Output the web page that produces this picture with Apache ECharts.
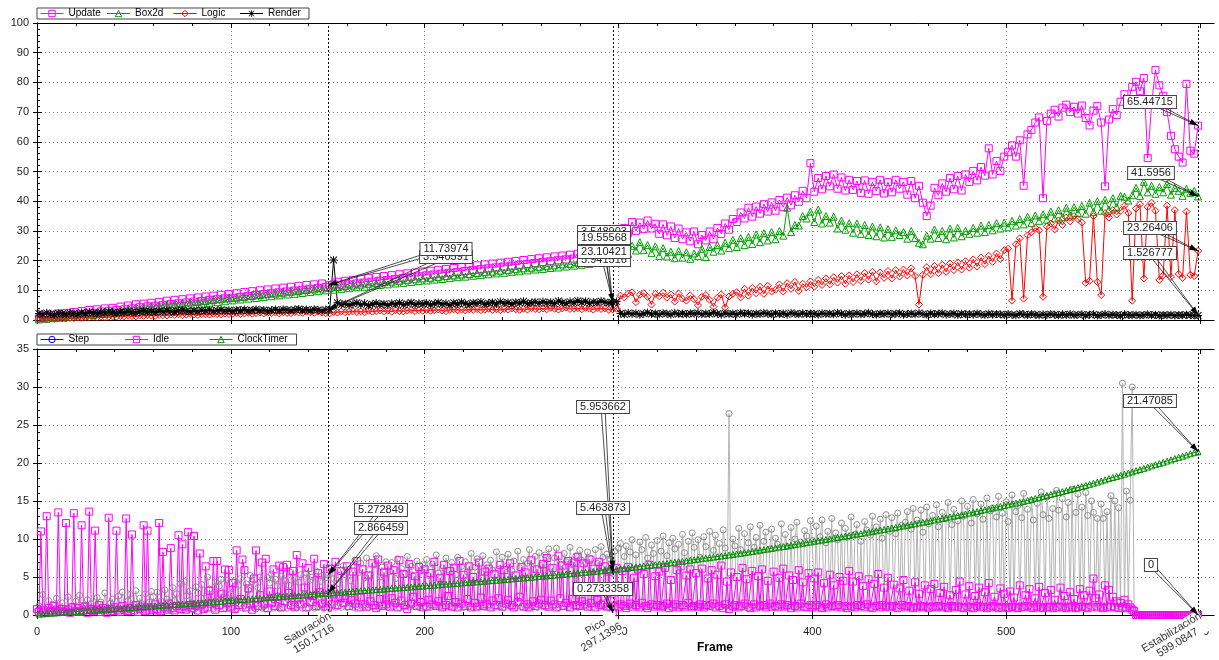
<!DOCTYPE html>
<html>
<head>
<meta charset="utf-8">
<title>Frame timings</title>
<script src="https://cdn.jsdelivr.net/npm/echarts@6/dist/echarts.min.js"></script>
<style>
html, body { margin: 0; padding: 0; background: #fff; }
#chart { width: 1219px; height: 660px; }
</style>
</head>
<body>
<div id="chart"></div>
<script>
const FONT = '"Liberation Sans", Arial, Helvetica, sans-serif';

// ---- axis ticks -------------------------------------------------------
const frameMax = 607.2;
const frameTicks = [0, 100, 200, 300, 400, 500, 600];
const frameMinorTicks = [20, 40, 60, 80, 120, 140, 160, 180, 220, 240, 260, 280,
  320, 340, 360, 380, 420, 440, 460, 480, 520, 540, 560, 580];

// ---- frames at which the timers were sampled --------------------------
const oddFrames = [];
for (let f = 1; f < 600; f += 2) oddFrames.push(f);
const everyFrame = [];
for (let f = 0; f < 600; f++) everyFrame.push(f);

// ---- cursors placed on the run ---------------------------------------
const cursors = [
  { name: 'Saturación', frame: 150.1716 },
  { name: 'Pico', frame: 297.1396 },
  { name: 'Estabilización', frame: 599.0847 }
];

// ---- upper panel (ms), one value per odd frame ------------------------
const updateMs = [
  0.6,1.5,0.9,1.8,1.1,2.2,1.3,2.4,1.6,2.7,
  1.8,3.0,2.1,3.4,2.4,3.6,2.9,3.9,3.1,4.1,
  3.4,4.5,3.6,4.9,3.9,5.3,4.3,5.5,4.6,5.8,
  4.8,6.1,5.0,6.5,5.4,6.8,5.6,7.0,5.9,7.3,
  6.2,7.6,6.4,7.9,6.8,8.2,7.0,8.5,7.3,8.8,
  7.5,9.0,7.8,9.4,8.1,9.7,8.4,10.0,8.7,10.3,
  9.0,10.6,9.3,10.9,9.6,11.2,9.9,11.5,10.2,11.8,
  10.5,12.0,10.8,12.3,11.1,11.73974,12.0,12.9,11.6,13.2,
  12.0,13.5,12.3,13.9,12.6,14.2,12.9,14.5,13.2,14.8,
  13.5,15.1,13.8,15.4,14.1,15.7,14.4,16.0,14.7,16.3,
  15.0,16.6,15.3,16.9,15.6,17.2,15.9,17.5,16.2,17.8,
  16.5,18.1,16.8,18.4,17.1,18.7,17.4,19.0,17.7,19.3,
  18.0,19.6,18.3,19.9,18.6,20.2,18.9,20.5,19.2,20.8,
  19.5,21.1,19.8,21.4,20.1,21.7,20.4,22.0,20.7,22.3,
  21.0,22.6,21.3,22.9,21.6,23.4,22.0,24.0,23.10421,24.2,
  27.5,31.0,29.2,33.0,30.0,32.8,30.6,33.5,30.8,32.4,
  29.0,32.2,28.5,31.5,27.6,30.8,27.2,29.5,26.5,29.8,
  25.5,28.6,26.8,29.8,27.2,31.0,29.0,32.5,30.4,34.0,
  33.0,36.2,34.2,37.8,34.8,38.2,35.8,39.0,36.5,39.6,
  36.8,40.4,38.0,41.2,38.6,42.0,39.8,43.5,41.0,52.8,
  43.2,47.8,44.0,48.5,45.0,49.0,44.2,48.0,43.6,47.2,
  43.8,46.8,42.8,47.0,42.5,46.5,43.4,47.2,42.6,46.4,
  43.0,47.2,44.2,46.5,42.2,46.8,41.0,45.2,39.5,35.0,
  38.5,44.5,42.0,46.0,43.2,47.8,44.0,48.5,43.6,49.0,
  46.5,50.2,47.0,51.5,48.6,57.8,49.0,53.5,50.2,55.0,
  56.5,58.8,55.0,60.5,45.2,62.5,64.0,66.5,68.2,41.0,
  67.0,69.5,70.8,68.5,71.5,72.5,70.0,71.8,69.5,72.2,
  68.0,65.5,70.5,72.0,66.5,45.0,67.5,71.0,69.0,73.5,
  76.0,74.0,78.5,80.2,77.0,81.5,54.5,72.5,84.2,79.0,
  75.5,70.0,62.0,57.5,55.0,53.0,79.5,57.0,56.0,65.44715
];
const box2dMs = [
  0.2,0.7,0.4,1.0,0.6,1.2,0.8,1.5,1.0,1.7,
  1.2,2.0,1.5,2.3,1.7,2.5,2.0,2.8,2.2,3.0,
  2.5,3.3,2.8,3.6,3.0,3.9,3.3,4.1,3.6,4.4,
  3.8,4.7,4.1,5.0,4.4,5.3,4.6,5.6,4.9,5.9,
  5.2,6.1,5.5,6.4,5.8,6.7,6.0,7.0,6.3,7.3,
  6.6,7.5,6.9,7.8,7.2,8.1,7.4,8.4,7.7,8.7,
  8.0,8.9,8.3,9.2,8.6,9.5,8.8,9.8,9.1,10.1,
  9.4,10.3,9.7,10.6,10.0,10.8,10.2,11.1,10.5,11.4,
  10.7,11.6,11.0,11.9,11.2,12.2,11.5,12.4,11.8,12.7,
  12.0,12.9,12.3,13.2,12.5,13.5,12.8,13.7,13.1,14.0,
  13.3,14.2,13.6,14.5,13.8,14.8,14.1,15.0,14.4,15.3,
  14.6,15.5,14.9,15.8,15.1,16.1,15.4,16.3,15.7,16.6,
  15.9,16.8,16.2,17.1,16.4,17.4,16.7,17.6,17.0,17.9,
  17.2,18.1,17.5,18.4,17.7,18.7,18.0,18.9,18.3,19.3,
  18.6,19.5,18.9,19.9,19.2,20.4,19.6,21.0,19.55568,21.3,
  21.0,23.6,22.2,25.0,23.4,26.2,23.5,25.2,22.6,24.8,
  21.6,24.2,21.4,23.0,20.8,23.2,21.0,22.8,20.6,22.4,
  21.5,24.0,21.2,24.6,23.0,25.2,23.4,26.0,24.2,27.0,
  24.6,27.6,25.2,28.0,25.6,28.8,26.2,29.2,26.8,29.6,
  27.2,30.0,28.4,37.8,29.6,32.0,31.8,35.0,34.2,36.5,
  33.0,37.2,32.5,35.0,32.8,34.8,30.8,33.5,30.4,32.6,
  29.4,32.5,29.0,32.0,28.6,31.5,28.2,31.2,27.8,30.6,
  28.0,30.2,28.6,29.6,27.4,30.0,27.6,26.0,25.5,28.4,
  27.4,30.5,27.6,30.0,27.2,30.8,27.8,31.0,28.2,30.0,
  29.0,31.0,29.4,31.8,29.6,32.0,30.2,32.6,30.8,32.8,
  31.2,33.4,31.8,34.0,32.2,34.8,32.6,35.2,33.4,35.6,
  33.8,36.5,34.2,37.0,34.6,37.8,35.2,38.0,36.0,38.4,
  35.8,39.5,36.4,40.0,36.8,40.5,37.2,41.0,38.0,41.8,
  41.5,40.2,42.0,44.5,41.8,46.5,43.0,45.2,42.5,44.8,
  43.0,45.8,42.2,44.5,43.5,41.8,44.2,42.8,43.5,41.5956
];
const logicMs = [
  0.3,0.4,0.3,0.5,0.4,0.5,0.6,0.5,0.7,0.6,
  0.8,0.7,0.9,0.8,1.0,0.9,1.1,1.0,1.1,1.2,
  1.1,1.3,1.2,1.4,1.3,1.2,1.5,1.4,1.6,1.5,
  1.4,1.7,1.6,1.5,1.8,1.7,1.9,1.6,1.8,2.0,
  1.8,1.7,2.0,1.9,1.8,2.1,2.0,1.9,2.2,2.0,
  2.1,2.3,2.0,2.2,2.4,2.1,2.3,2.5,2.2,2.4,
  2.3,2.5,2.2,2.6,2.4,2.3,2.7,2.5,2.4,2.8,
  2.6,2.4,2.8,2.5,2.3,2.2,2.7,2.5,2.9,2.6,
  2.8,3.0,2.7,2.9,2.6,3.1,2.8,3.0,3.2,2.9,
  3.1,2.8,3.3,3.0,2.9,3.2,3.4,3.0,3.3,3.1,
  3.4,3.1,3.3,3.5,3.2,3.0,3.4,3.6,3.3,3.5,
  3.2,3.6,3.4,3.7,3.3,3.5,3.8,3.4,3.6,3.3,
  3.7,3.5,3.9,3.6,3.4,3.8,3.5,4.0,3.7,3.6,
  3.9,3.6,4.1,3.8,3.5,3.9,4.2,3.7,3.8,4.0,
  3.6,4.1,3.8,3.5,4.0,3.7,3.9,3.4,3.548903,3.8,
  8.2,7.6,8.9,9.3,6.0,8.5,9.0,7.8,5.2,8.8,
  8.0,9.2,7.5,8.6,6.2,8.9,7.2,6.5,8.3,7.0,
  5.0,7.8,8.4,6.8,4.5,7.5,8.6,4.2,7.9,8.8,
  9.4,7.6,10.5,8.2,10.8,9.0,11.2,8.8,11.5,9.6,
  10.2,12.0,9.6,12.4,10.5,12.8,9.8,12.2,11.0,13.0,
  11.2,13.5,11.8,14.0,12.0,14.4,12.6,14.8,12.2,15.0,
  12.8,15.4,13.2,15.8,13.6,16.2,13.0,16.0,14.2,16.5,
  14.0,16.8,14.6,17.0,15.0,17.4,14.8,5.2,15.2,17.8,
  15.4,18.2,15.8,18.6,16.2,19.0,16.8,19.4,17.0,19.8,
  17.6,20.4,18.0,21.0,18.8,21.6,19.6,22.4,20.5,23.5,
  24.0,6.5,25.5,27.5,7.2,28.5,29.5,31.0,30.2,7.8,
  31.5,32.5,30.5,33.5,32.0,34.5,33.2,35.0,34.0,32.8,
  12.5,13.2,35.0,12.8,8.4,36.0,34.5,37.0,35.5,36.8,
  38.5,36.0,6.5,37.5,39.0,14.0,38.0,39.5,36.8,13.5,
  15.0,38.5,14.5,37.0,15.5,14.2,36.5,15.2,14.8,23.26406
];
const renderMs = [
  2.2,1.9,2.4,2.0,1.8,2.3,2.1,1.9,2.4,2.2,
  2.0,2.5,2.2,2.7,2.3,2.1,2.6,2.4,2.8,2.5,
  2.3,2.7,2.5,2.9,2.6,2.4,2.8,3.0,2.7,2.9,
  2.6,3.0,2.8,3.2,2.9,2.7,3.1,3.3,3.0,2.8,
  3.2,2.9,3.3,3.1,3.4,3.0,3.2,3.5,3.1,3.3,
  3.0,3.4,3.2,3.5,3.1,3.3,3.6,3.2,3.4,3.0,
  3.3,3.5,3.1,3.6,3.4,3.2,3.5,3.7,3.3,3.5,
  3.2,3.6,3.4,3.1,3.5,3.540591,20.2,5.8,5.2,5.5,
  5.0,5.4,5.8,5.1,5.6,4.9,5.3,5.7,5.2,5.5,
  5.0,5.6,5.3,5.8,5.1,5.5,5.9,5.2,5.6,5.4,
  5.7,5.1,5.5,5.9,5.3,5.6,5.0,5.8,5.4,6.0,
  5.5,5.2,5.8,5.6,6.1,5.3,5.7,5.9,5.4,6.2,
  5.6,5.9,5.3,6.0,5.7,6.3,5.5,5.8,6.1,5.6,
  6.2,5.7,6.0,5.5,6.4,5.9,5.6,6.2,5.8,6.5,
  5.9,6.3,5.6,6.1,5.8,6.4,6.0,5.7,5.941516,6.2,
  2.2,1.9,2.4,2.0,2.3,1.8,2.1,2.5,2.0,2.2,
  1.9,2.3,2.1,1.8,2.4,2.0,2.2,1.9,2.3,2.1,
  2.4,1.9,2.2,2.0,2.5,2.1,1.8,2.3,2.0,2.2,
  1.9,2.4,2.1,2.3,1.8,2.2,2.0,2.4,2.1,1.9,
  2.3,2.0,2.2,1.8,2.4,2.1,1.9,2.3,2.0,2.2,
  2.1,1.8,2.3,2.0,2.2,1.9,2.4,2.1,1.8,2.2,
  2.0,2.3,1.9,2.1,2.4,2.0,1.8,2.2,2.0,2.3,
  1.9,2.1,2.3,1.8,2.0,2.2,1.9,2.4,2.0,1.8,
  2.2,1.9,2.1,2.3,1.8,2.0,2.2,1.7,2.1,1.9,
  2.0,1.8,2.2,1.9,1.7,2.1,1.8,2.0,1.9,1.7,
  2.0,1.8,1.6,2.1,1.9,1.7,2.0,1.8,1.6,1.9,
  1.7,2.0,1.8,1.6,1.9,1.7,2.0,1.6,1.8,1.9,
  1.6,1.8,1.9,1.5,1.7,2.0,1.6,1.8,1.7,1.5,
  1.9,1.7,1.6,1.8,1.5,1.7,1.9,1.6,1.8,1.5,
  1.7,1.6,1.8,1.5,1.7,1.6,1.8,1.6,1.5,1.526777
];

// ---- lower panel (ms) -------------------------------------------------
const clockTimerMs = [
  0.12,0.15,0.19,0.23,0.26,0.30,0.33,0.37,0.41,0.44,
  0.48,0.52,0.55,0.59,0.62,0.66,0.70,0.73,0.77,0.80,
  0.84,0.88,0.91,0.95,0.98,1.02,1.06,1.09,1.13,1.16,
  1.20,1.23,1.27,1.30,1.34,1.37,1.41,1.44,1.48,1.51,
  1.55,1.58,1.62,1.66,1.69,1.73,1.77,1.81,1.85,1.89,
  1.93,1.97,2.01,2.05,2.08,2.12,2.16,2.20,2.24,2.28,
  2.32,2.36,2.40,2.44,2.48,2.52,2.56,2.59,2.63,2.67,
  2.71,2.75,2.79,2.81,2.84,2.866459,2.91,2.95,2.99,3.03,
  3.07,3.11,3.15,3.19,3.22,3.26,3.30,3.34,3.38,3.42,
  3.46,3.50,3.54,3.58,3.61,3.65,3.69,3.73,3.77,3.81,
  3.85,3.89,3.93,3.97,4.01,4.05,4.09,4.13,4.17,4.21,
  4.25,4.29,4.33,4.37,4.41,4.45,4.49,4.53,4.57,4.61,
  4.66,4.70,4.75,4.79,4.84,4.88,4.93,4.97,5.02,5.06,
  5.11,5.15,5.20,5.24,5.29,5.34,5.38,5.43,5.48,5.53,
  5.57,5.62,5.67,5.72,5.76,5.81,5.86,5.90,5.953662,6.01,
  6.07,6.13,6.19,6.25,6.31,6.37,6.43,6.49,6.55,6.62,
  6.68,6.74,6.80,6.87,6.94,7.00,7.07,7.14,7.21,7.28,
  7.35,7.41,7.48,7.55,7.62,7.69,7.76,7.83,7.90,7.97,
  8.04,8.12,8.20,8.28,8.36,8.44,8.52,8.60,8.68,8.77,
  8.85,8.93,9.01,9.10,9.18,9.26,9.35,9.43,9.52,9.60,
  9.69,9.77,9.86,9.94,10.03,10.12,10.20,10.29,10.37,10.46,
  10.55,10.63,10.72,10.81,10.90,10.99,11.08,11.17,11.26,11.35,
  11.44,11.53,11.62,11.71,11.80,11.90,12.00,12.10,12.20,12.30,
  12.40,12.50,12.60,12.70,12.80,12.90,13.00,13.10,13.20,13.30,
  13.41,13.52,13.63,13.74,13.85,13.96,14.07,14.18,14.29,14.40,
  14.51,14.62,14.73,14.84,14.95,15.08,15.21,15.34,15.47,15.60,
  15.73,15.86,15.99,16.12,16.25,16.38,16.51,16.64,16.77,16.90,
  17.04,17.19,17.34,17.49,17.64,17.79,17.94,18.09,18.24,18.39,
  18.54,18.69,18.84,18.99,19.14,19.30,19.46,19.62,19.78,19.94,
  20.10,20.26,20.42,20.58,20.74,20.90,21.06,21.22,21.36,21.47085
];
// one value per frame, 0..599
const stepMs = [
  0.5,1.2,0.3,2.7,0.8,0.4,1.9,0.6,1.4,0.3,2.2,0.5,0.9,1.6,0.4,0.7,2.4,0.5,1.1,0.3,
  1.8,0.6,2.6,0.4,1.3,0.9,2.0,0.5,1.5,0.7,0.4,2.3,0.8,1.7,0.5,2.9,1.0,0.4,1.6,2.1,
  0.6,0.5,2.5,1.2,3.0,0.7,0.4,1.9,2.7,0.5,1.4,3.2,0.8,2.2,1.5,0.6,2.8,0.5,1.7,3.1,
  2.4,0.7,3.0,0.5,1.8,0.6,3.3,2.1,0.8,0.6,3.6,1.9,2.8,0.7,4.1,0.6,4.4,2.5,0.8,3.2,
  1.6,0.7,3.7,2.9,0.9,4.0,2.2,0.8,5.0,3.4,1.9,0.8,4.3,0.9,3.8,4.7,2.3,0.9,4.6,0.8,
  2.8,0.9,4.5,0.8,3.9,4.8,0.9,1.2,4.1,3.3,5.2,4.4,0.9,0.8,3.6,5.0,0.9,1.1,0.8,4.9,
  4.2,5.4,0.9,4.7,3.8,0.9,5.1,1.0,4.5,0.9,3.9,5.6,0.9,4.8,0.9,4.3,5.3,0.9,2.9,5.5,
  0.9,4.6,5.0,0.9,5.8,1.0,4.4,5.2,0.9,4.9,5.272849,1.0,6.2,4.8,1.0,5.9,4.1,1.0,6.5,5.3,
  1.0,6.0,4.5,1.0,7.2,1.1,5.6,6.8,1.0,4.9,7.5,1.0,5.3,1.1,6.6,7.8,1.0,5.0,6.3,1.1,
  7.0,1.0,5.7,6.9,1.1,4.8,7.4,1.0,6.1,1.1,5.4,7.7,1.0,6.4,5.1,1.1,7.1,1.0,5.8,6.6,
  1.1,7.3,5.2,1.0,6.7,1.1,7.9,5.5,1.1,6.2,1.0,7.5,5.9,1.1,6.9,1.0,5.3,7.6,1.1,6.4,
  1.0,7.0,5.7,1.1,8.1,1.0,6.3,7.4,1.1,5.6,7.8,1.0,6.6,1.1,7.2,5.9,1.0,8.3,6.0,1.1,
  7.6,1.0,6.4,8.0,1.1,5.8,7.1,1.0,8.4,6.2,1.1,7.3,1.0,6.8,8.6,1.1,6.0,7.7,1.0,8.2,
  6.5,1.1,7.9,1.0,8.7,6.3,1.1,7.5,8.8,1.0,6.7,1.1,8.1,7.0,1.0,8.9,6.6,1.1,7.8,1.0,
  8.5,7.2,1.1,6.9,8.3,1.0,7.4,1.1,8.6,6.8,1.0,9.0,7.6,1.1,8.0,1.0,7.3,5.463873,8.4,1.1,
  8.8,9.4,1.2,7.7,9.1,1.1,8.3,9.9,1.2,7.9,1.1,9.6,8.6,1.2,10.2,7.5,1.1,9.2,8.1,1.2,
  9.8,1.1,8.4,10.4,1.2,7.8,9.5,1.1,10.1,8.7,1.2,9.3,1.1,10.6,8.2,1.2,9.7,1.1,10.8,8.9,
  1.2,9.9,7.6,1.1,10.3,9.0,1.2,11.0,1.1,8.5,10.5,1.2,9.4,1.1,11.2,8.8,1.2,26.5,1.1,10.0,
  9.1,1.2,11.4,8.6,1.1,10.7,1.2,9.5,11.6,1.1,8.9,10.2,1.2,11.8,1.1,9.7,10.9,1.2,8.7,11.3,
  1.1,10.1,9.3,1.2,12.0,1.1,10.6,9.0,1.2,11.5,1.1,10.0,12.2,1.2,9.6,1.1,11.1,10.4,1.2,12.4,
  9.8,1.1,11.7,1.2,10.3,12.5,1.1,9.5,11.0,1.2,12.7,1.1,10.8,9.9,1.2,12.1,1.1,11.4,10.2,1.2,
  12.9,1.1,10.6,11.9,1.2,9.7,1.1,12.3,11.2,1.2,10.5,13.0,1.1,11.6,1.2,12.6,10.1,1.1,13.2,1.2,
  11.0,12.8,1.1,10.7,13.4,1.2,11.8,1.1,12.2,13.6,1.2,11.3,14.0,1.1,12.5,1.2,13.8,10.9,1.1,14.2,
  12.0,1.2,13.1,1.1,14.5,11.6,1.2,13.5,1.1,12.7,14.8,1.2,11.9,13.9,1.1,12.4,1.2,15.0,13.0,1.1,
  14.3,1.2,12.1,15.2,1.1,13.3,1.2,14.6,12.6,1.1,15.4,1.2,13.7,14.1,1.1,12.9,15.6,1.2,13.4,1.1,
  14.9,12.3,1.2,15.8,1.1,13.6,14.4,1.2,12.8,16.0,1.1,13.9,1.2,15.1,12.5,1.1,14.7,1.2,16.2,13.2,
  1.1,15.5,12.7,1.2,14.0,1.1,16.4,13.8,1.2,15.3,1.1,12.9,14.8,1.2,16.5,1.1,13.5,15.9,1.2,14.2,
  1.1,16.1,13.1,1.2,15.0,13.5,1.1,12.7,1.2,14.6,12.7,1.1,13.6,1.2,15.7,1.1,15.0,1.2,14.1,1.1,
  30.5,1.0,16.3,1.1,15.1,30.0,0.8,0,0,0,0,0,0,0,0,0,0,0,0,0,
  0,0,0,0,0,0,0,0,0,0,0,0,0,0,0,0,0,0,0,0
];
const idleMs = [
  0.8,0.4,11.0,0.6,0.3,13.0,0.9,0.5,0.4,1.2,0.6,13.5,0.5,0.8,0.4,12.1,0.7,0.3,1.0,13.4,
  0.5,0.9,0.4,11.8,0.6,1.1,0.3,13.6,0.8,0.5,11.1,0.7,1.3,0.4,0.9,0.6,0.3,12.8,0.8,0.5,
  1.0,11.1,0.6,0.4,1.2,0.7,12.7,0.5,0.9,10.6,0.6,1.3,0.4,0.8,1.1,11.8,0.5,11.1,0.7,1.0,
  0.6,1.4,0.8,12.1,0.5,8.3,1.0,0.7,1.5,8.8,0.9,0.6,1.2,10.5,0.8,9.3,1.1,0.7,10.9,1.3,
  0.9,10.4,1.2,0.6,8.1,1.4,0.8,6.4,1.0,3.2,1.5,7.1,0.7,7.1,1.3,2.8,0.9,6.0,1.6,5.9,
  1.1,4.2,0.8,8.5,1.3,2.1,7.3,5.9,1.0,3.5,1.4,0.7,4.8,8.5,1.2,2.6,6.9,1.5,7.4,0.9,
  3.1,1.6,6.0,1.2,2.4,6.5,1.0,6.3,1.8,6.6,2.9,1.3,5.8,1.1,7.9,2.2,1.4,6.8,3.6,1.0,
  6.2,1.7,2.5,7.4,1.2,5.5,3.0,1.5,6.7,1.1,0.9,6.1,1.4,2.7,7.0,1.3,2.4,5.8,1.6,2.2,
  6.4,1.2,2.0,5.7,1.5,7.1,1.0,2.3,6.0,1.4,1.1,5.2,1.8,6.8,1.3,0.9,7.3,2.1,1.2,5.6,
  1.4,6.5,1.1,2.2,5.9,1.6,1.0,7.2,1.9,5.4,1.3,0.8,6.7,1.5,2.4,5.1,1.2,6.3,1.7,1.0,
  6.0,1.1,2.0,5.5,1.4,7.0,1.2,1.8,4.9,1.0,6.6,1.3,2.5,5.8,1.1,6.2,1.7,1.0,7.1,1.5,
  5.3,1.2,2.1,6.4,1.0,5.0,1.6,1.1,6.9,2.3,1.2,5.7,1.4,6.1,1.0,1.9,5.4,1.3,2.2,6.6,
  1.1,5.9,1.5,2.0,6.8,1.3,1.0,5.2,1.7,2.4,6.3,1.1,5.6,1.4,1.0,7.2,1.8,1.2,6.0,1.5,
  2.0,6.7,1.3,7.5,1.1,1.9,6.2,1.4,1.0,7.8,2.2,6.5,1.2,1.6,7.1,1.0,2.1,6.9,1.3,7.6,
  1.2,1.8,6.8,1.4,1.1,7.3,1.6,6.1,1.0,2.0,7.0,1.3,1.5,6.4,1.1,5.7,1.9,0.2733358,1.2,6.2,
  1.0,1.4,5.8,1.2,0.9,6.3,1.5,1.1,4.9,1.3,6.0,1.0,1.6,5.4,1.2,0.9,6.6,1.4,1.1,5.1,
  1.3,5.7,1.0,1.2,6.2,1.5,0.9,4.6,1.1,1.4,5.9,1.0,6.4,1.3,1.1,5.2,1.6,6.0,1.0,1.2,
  5.5,1.1,1.4,6.1,1.0,1.3,4.8,1.2,5.9,1.5,1.0,5.3,1.2,6.5,0.9,1.4,4.4,0.8,5.6,1.1,
  1.3,5.0,1.0,1.2,6.2,1.5,4.7,1.1,0.9,5.8,1.4,1.0,5.1,1.2,6.0,1.3,1.0,4.5,1.5,1.1,
  5.7,1.2,1.0,4.9,1.4,6.1,1.1,1.3,5.2,0.9,4.6,1.2,1.0,5.9,1.5,4.3,1.1,1.0,5.5,1.3,
  1.0,4.8,1.3,5.6,1.1,0.9,4.2,1.4,1.0,5.3,1.2,3.9,1.1,1.3,5.0,1.0,4.5,1.2,0.9,5.8,
  1.1,4.4,1.0,1.3,5.1,1.2,3.8,1.0,1.4,4.7,1.1,0.9,4.1,1.2,5.4,1.0,1.3,3.6,1.1,4.9,
  1.0,1.2,4.0,1.1,0.9,3.5,1.3,4.6,1.0,1.2,3.2,1.1,0.9,4.3,1.0,2.8,1.2,1.0,3.9,1.1,
  0.9,3.4,1.1,4.1,1.0,1.2,2.9,1.0,3.7,1.1,0.9,2.6,1.2,1.0,3.3,1.1,4.4,1.0,0.9,2.7,
  1.1,3.8,1.0,0.9,2.5,1.2,3.6,1.0,1.1,3.0,0.9,4.2,1.0,1.2,2.4,1.1,0.9,3.5,1.0,2.8,
  1.0,0.9,3.1,1.1,2.3,1.0,0.9,3.9,1.1,1.0,2.6,1.2,3.4,1.0,0.9,2.2,1.1,3.7,1.0,0.9,
  2.9,1.0,1.1,3.3,0.9,2.0,1.0,1.1,3.6,1.0,2.5,0.9,1.1,3.0,1.0,2.1,0.9,1.0,3.4,1.1,
  2.6,1.0,0.9,3.2,1.1,4.8,2.2,1.0,2.7,1.1,0.9,3.9,1.0,3.3,1.1,2.4,1.0,1.8,0.9,1.6,
  1.0,2.0,0.9,1.4,1.0,0.7,0.5,0,0,0,0,0,0,0,0,0,0,0,0,0,
  0,0,0,0,0,0,0,0,0,0,0,0,0,0,0,0,0,0,0,0
];

// ---- styling ----------------------------------------------------------
const C = {
  update: '#ff00ff', box2d: '#00a000', logic: '#ff0000', render: '#000000',
  step: '#8c8c8c', stepLine: '#b4b4b4', idle: '#ff00ff', clock: '#009000'
};
const STAR = 'path://M0,4.4H10V5.6H0Z M4.4,0H5.6V10H4.4Z M1.2,0.4L9.6,8.8L8.8,9.6L0.4,1.2Z M8.8,0.4L9.6,1.2L1.2,9.6L0.4,8.8Z';
const HOLLOW = 'rgba(255,255,255,0)';
const axisBlack = { color: '#000', width: 1 };
const gridLine = { color: '#808080', width: 1, type: [1, 3] };

function pairs(frames, values) { return frames.map((f, i) => [f, values[i]]); }

function lineSeries(name, grid, frames, values, o) {
  return {
    type: 'line', name: name,
    xAxisIndex: grid === 0 ? 0 : 5, yAxisIndex: grid,
    data: pairs(frames, values),
    symbol: o.symbol, symbolSize: o.size,
    showSymbol: true, showAllSymbol: true,
    lineStyle: { color: o.line || o.color, width: 1 },
    itemStyle: o.filled
      ? { color: o.color }
      : { color: HOLLOW, borderColor: o.color, borderWidth: 1 },
    emphasis: { disabled: true }, silent: true, animation: false
  };
}

function cursorLines() {
  return {
    silent: true, symbol: ['none', 'none'], animation: false,
    label: { show: false },
    lineStyle: { color: '#000', width: 1, type: [2, 2] },
    emphasis: { disabled: true },
    data: cursors.map(c => ({ xAxis: c.frame }))
  };
}

function frameAxes(gridIndex, showLabels) {
  const base = { type: 'value', gridIndex: gridIndex, min: 0, max: frameMax, interval: 100,
    splitLine: { show: false }, axisLabel: { show: false } };
  return [
    Object.assign({}, base, {
      position: 'bottom',
      axisLine: { show: true, onZero: false, lineStyle: axisBlack },
      axisTick: { show: true, inside: false, length: 4, customValues: frameTicks, lineStyle: axisBlack },
      axisLabel: showLabels
        ? { show: true, customValues: frameTicks, margin: 11, fontSize: 11, color: '#222', fontFamily: FONT }
        : { show: false },
      splitLine: { show: true, showMinLine: false, showMaxLine: false, lineStyle: gridLine }
    }),
    Object.assign({}, base, { position: 'bottom', axisLine: { show: false, onZero: false },
      axisTick: { show: true, inside: true, length: 5, customValues: frameTicks, lineStyle: axisBlack } }),
    Object.assign({}, base, { position: 'bottom', axisLine: { show: false, onZero: false },
      axisTick: { show: true, inside: true, length: 3, customValues: frameMinorTicks, lineStyle: axisBlack } }),
    Object.assign({}, base, { position: 'top', axisLine: { show: true, onZero: false, lineStyle: axisBlack },
      axisTick: { show: true, inside: true, length: 5, customValues: frameTicks, lineStyle: axisBlack } }),
    Object.assign({}, base, { position: 'top', axisLine: { show: false, onZero: false },
      axisTick: { show: true, inside: true, length: 3, customValues: frameMinorTicks, lineStyle: axisBlack } })
  ];
}

function msAxis(gridIndex, max, interval) {
  return {
    type: 'value', gridIndex: gridIndex, min: 0, max: max, interval: interval, position: 'left',
    axisLine: { show: true, onZero: false, lineStyle: axisBlack },
    axisTick: { show: true, inside: true, length: 5, lineStyle: axisBlack },
    minorTick: { show: true, splitNumber: 5, length: 3, lineStyle: axisBlack },
    axisLabel: { fontSize: 11, color: '#222', margin: 8, fontFamily: FONT },
    splitLine: { show: true, showMinLine: false, showMaxLine: false, lineStyle: gridLine }
  };
}
function msOuterTicks(gridIndex, max, interval) {
  return {
    type: 'value', gridIndex: gridIndex, min: 0, max: max, interval: interval, position: 'left',
    axisLine: { show: false, onZero: false },
    axisTick: { show: true, inside: false, length: 4, lineStyle: axisBlack },
    axisLabel: { show: false }, splitLine: { show: false }
  };
}

function legendItem(name, color) {
  return { name: name,
    itemStyle: { color: HOLLOW, borderColor: color, borderWidth: 1 },
    lineStyle: { color: color, width: 1 } };
}
function legendBox(top, data, textWidth) {
  return {
    data: data, left: 37, top: top, orient: 'horizontal',
    itemWidth: 23, itemHeight: 8, itemGap: 0, padding: [0, 3],
    borderColor: '#444', borderWidth: 1, borderRadius: 0, backgroundColor: '#fff',
    selectedMode: false,
    textStyle: { fontSize: 10, lineHeight: 11, color: '#000', fontFamily: FONT, width: textWidth, overflow: 'truncate' }
  };
}

const upper = [
  Object.assign(lineSeries('Update', 0, oddFrames, updateMs, { symbol: 'rect', size: 7, color: C.update }), { markLine: cursorLines() }),
  lineSeries('Box2d', 0, oddFrames, box2dMs, { symbol: 'triangle', size: 7, color: C.box2d }),
  lineSeries('Logic', 0, oddFrames, logicMs, { symbol: 'diamond', size: 7, color: C.logic }),
  lineSeries('Render', 0, oddFrames, renderMs, { symbol: STAR, size: 8, color: C.render, filled: true })
];
const lower = [
  Object.assign(lineSeries('Step', 1, everyFrame, stepMs, { symbol: 'circle', size: 6, color: C.step, line: C.stepLine }), { markLine: cursorLines() }),
  lineSeries('Idle', 1, everyFrame, idleMs, { symbol: 'rect', size: 7, color: C.idle }),
  lineSeries('ClockTimer', 1, oddFrames, clockTimerMs, { symbol: 'triangle', size: 6, color: C.clock })
];

const option = {
  animation: false,
  backgroundColor: '#fff',
  textStyle: { fontFamily: FONT },
  grid: [
    { left: 37, right: 5, top: 23, height: 297, outerBoundsMode: 'none' },
    { left: 37, right: 5, top: 349, height: 266, outerBoundsMode: 'none' }
  ],
  legend: [
    legendBox(8, [
      legendItem('Update', C.update),
      legendItem('Box2d', C.box2d),
      legendItem('Logic', C.logic),
      { name: 'Render', itemStyle: { color: C.render }, lineStyle: { color: C.render, width: 1 } }
    ], 38),
    legendBox(334, [
      legendItem('Step', '#0000ff'),
      legendItem('Idle', C.idle),
      legendItem('ClockTimer', C.clock)
    ], 56)
  ],
  xAxis: frameAxes(0, false).concat(frameAxes(1, true)),
  yAxis: [msAxis(0, 100, 10), msAxis(1, 35, 5), msOuterTicks(0, 100, 10), msOuterTicks(1, 35, 5)],
  series: upper.concat(lower)
};

const chart = echarts.init(document.getElementById('chart'), null, { renderer: 'canvas' });
chart.setOption(option);

// ---- value call-outs and cursor captions ------------------------------
// box: centre of the call-out box (px); the arrow ends on the value at the cursor
const notes = [
  { grid: 0, values: renderMs, frames: oddFrames, cursor: 0, box: [446, 257] },
  { grid: 0, values: updateMs, frames: oddFrames, cursor: 0, box: [446, 249] },
  { grid: 0, values: logicMs, frames: oddFrames, cursor: 1, box: [604, 232] },
  { grid: 0, values: box2dMs, frames: oddFrames, cursor: 1, box: [604, 238] },
  { grid: 0, values: renderMs, frames: oddFrames, cursor: 1, box: [604, 260] },
  { grid: 0, values: updateMs, frames: oddFrames, cursor: 1, box: [604, 252] },
  { grid: 0, values: updateMs, frames: oddFrames, cursor: 2, box: [1150, 102] },
  { grid: 0, values: box2dMs, frames: oddFrames, cursor: 2, box: [1151, 173] },
  { grid: 0, values: logicMs, frames: oddFrames, cursor: 2, box: [1150, 228] },
  { grid: 0, values: renderMs, frames: oddFrames, cursor: 2, box: [1150, 253] },
  { grid: 1, values: stepMs, frames: everyFrame, cursor: 0, box: [381, 510] },
  { grid: 1, values: clockTimerMs, frames: oddFrames, cursor: 0, box: [381, 528] },
  { grid: 1, values: clockTimerMs, frames: oddFrames, cursor: 1, box: [603, 407] },
  { grid: 1, values: stepMs, frames: everyFrame, cursor: 1, box: [603, 508] },
  { grid: 1, values: idleMs, frames: everyFrame, cursor: 1, box: [603, 589] },
  { grid: 1, values: clockTimerMs, frames: oddFrames, cursor: 2, box: [1150, 401] },
  { grid: 1, values: stepMs, frames: everyFrame, cursor: 2, box: [1151, 565] }
];

function nearestIndex(frames, x) {
  let best = 0;
  frames.forEach((f, i) => { if (Math.abs(f - x) < Math.abs(frames[best] - x)) best = i; });
  return best;
}
function toPx(grid, x, y) {
  return chart.convertToPixel({ xAxisIndex: grid === 0 ? 0 : 5, yAxisIndex: grid }, [x, y]);
}

const arrows = [];
const boxes = [];
notes.forEach(n => {
  const cur = cursors[n.cursor];
  const v = n.values[nearestIndex(n.frames, cur.frame)];
  const t = toPx(n.grid, cur.frame, v);
  const bx = n.box[0], by = n.box[1];
  let dx = bx - t[0], dy = by - t[1];
  const len = Math.hypot(dx, dy) || 1;
  dx /= len; dy /= len;
  const nx = -dy, ny = dx;
  arrows.push({ type: 'polyline', silent: true, z: 50,
    shape: { points: [[bx + nx * 2, by + ny * 2], [t[0], t[1]], [bx - nx * 2, by - ny * 2]] },
    style: { stroke: '#222', fill: 'none', lineWidth: 0.8 } });
  arrows.push({ type: 'polygon', silent: true, z: 51,
    shape: { points: [[t[0], t[1]], [t[0] + dx * 9 + nx * 3, t[1] + dy * 9 + ny * 3], [t[0] + dx * 9 - nx * 3, t[1] + dy * 9 - ny * 3]] },
    style: { fill: '#000' } });
  boxes.push({ type: 'text', silent: true, z: 60, x: bx, y: by,
    style: { text: String(v), font: '11px ' + FONT, fill: '#222', align: 'center', verticalAlign: 'middle',
      backgroundColor: '#fff', borderColor: '#444', borderWidth: 1, padding: [1, 3, 0, 3] } });
});

const measure = document.createElement('canvas').getContext('2d');
const captionFont = '11px ' + FONT;
measure.font = captionFont;
const captions = cursors.map(c => {
  const p = toPx(1, c.frame, 0);
  const lines = [c.name, String(c.frame)];
  const w = Math.max.apply(null, lines.map(s => measure.measureText(s).width));
  const a = 31 * Math.PI / 180;
  const ax = p[0] - 1, ay = p[1] - 5;
  return { type: 'text', silent: true, z: 40,
    x: ax - Math.cos(a) * w / 2, y: ay + Math.sin(a) * w / 2, rotation: a,
    style: { text: lines.join('\n'), font: captionFont, fill: '#333', align: 'center', verticalAlign: 'top',
      lineHeight: 12, backgroundColor: '#fff' } };
});

const axisTitle = { type: 'text', silent: true, z: 40, x: 715, y: 648,
  style: { text: 'Frame', font: 'bold 12px ' + FONT, fill: '#000', align: 'center', verticalAlign: 'middle' } };

chart.setOption({ graphic: arrows.concat(captions, [axisTitle], boxes) });
</script>
</body>
</html>
